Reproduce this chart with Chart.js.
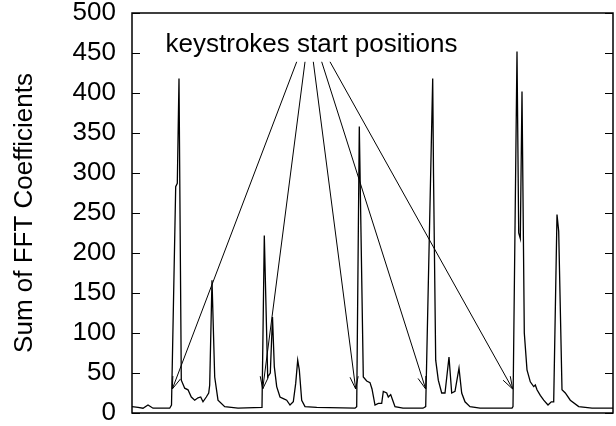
<!DOCTYPE html>
<html>
<head>
<meta charset="utf-8">
<script src="https://cdn.jsdelivr.net/npm/chart.js@4/dist/chart.umd.min.js"></script>
<style>
  html, body { margin: 0; padding: 0; background: #fff; }
  #wrap { width: 616px; height: 426px; }
</style>
</head>
<body>
<div id="wrap"><canvas id="fftChart"></canvas></div>
<script>
// sample positions (time axis, no labels shown) and summed FFT coefficients
const samplePos = [0, 6, 11, 16, 21, 37.7, 39.5, 43.7, 45.3, 47, 49.3, 52.7, 56, 59.3, 62.7, 66, 68.7, 71, 74.3, 76.7, 77.7, 80, 82.7, 86, 92.7, 106,
  130, 132.3, 135.7, 138.3, 140.5, 142.3, 144.7, 148, 151.3, 154.7, 158, 161.3, 163.7, 165.7, 167.3, 169.7, 173, 184.7,
  223, 224.7, 227.3, 231.3, 234.7, 238, 240, 243, 246.3, 249.7, 251.3, 254.7, 256.3, 258.7, 260.7, 263, 271,
  291, 293.7, 300.7, 301.5, 303.7, 306.3, 309.7, 313, 317, 319.7, 323, 327, 329.7, 333, 338, 348,
  380, 381, 385, 386.7, 388.3, 390, 392.3, 395, 398.3, 401.7, 403.3, 405, 408.3, 411.7, 416, 419.3, 421.7, 425, 426.7, 430, 433.3, 438.3, 446.7, 460, 481];
const fftSum = [8, 7, 6, 10, 6, 6, 10, 283, 287, 418, 41, 31, 29, 20, 16, 19, 20, 14, 20, 25, 35, 166, 45, 16, 8, 6,
  7, 222, 45, 50, 120, 58, 33, 20, 18, 16, 10, 14, 37, 66, 54, 16, 8, 7,
  6, 8, 358, 45, 40, 38, 30, 10, 12, 12, 27, 25, 20, 23, 16, 8, 6,
  6, 8, 418, 300, 66, 41, 25, 25, 70, 25, 27, 56, 25, 14, 8, 6,
  6, 8, 452, 225, 218, 402, 100, 54, 39, 33, 35, 29, 22, 16, 10, 14, 14, 248, 227, 29, 25, 16, 8, 6, 6];
const yTicks = [0, 50, 100, 150, 200, 250, 300, 350, 400, 450, 500];

// annotation: label and arrows to the keystroke start positions
const noteText = "keystrokes start positions";
const notePos = [179.5, 460];
const arrowFromX = [164.7, 173, 181.3, 189.7, 198];
const arrowFromY = 439;
const arrowToX = [40.3, 130.7, 223.7, 293.7, 380.7];
const arrowToY = 30;

const FONT = "Liberation Sans, Arial, Helvetica, sans-serif";

// box round the plot, inward ticks on both sides, then arrows + label
const framePlugin = {
  id: "frame",
  afterDraw(chart) {
    const { ctx, chartArea: a, scales: { x, y } } = chart;
    ctx.save();
    ctx.strokeStyle = "#000";
    ctx.lineWidth = 1.5;
    ctx.beginPath();
    ctx.moveTo(a.left, a.top);
    ctx.lineTo(a.right, a.top);
    ctx.lineTo(a.right, a.bottom);
    ctx.lineTo(a.left, a.bottom);
    ctx.closePath();
    ctx.stroke();

    ctx.lineWidth = 1;
    ctx.beginPath();
    yTicks.forEach((v) => {
      const py = Math.round(y.getPixelForValue(v)) + 0.5;
      ctx.moveTo(a.left, py);
      ctx.lineTo(a.left + 8, py);
      ctx.moveTo(a.right, py);
      ctx.lineTo(a.right - 8, py);
    });
    ctx.stroke();

    arrowToX.forEach((tx, i) => {
      const x0 = x.getPixelForValue(arrowFromX[i]);
      const y0 = y.getPixelForValue(arrowFromY);
      const x1 = x.getPixelForValue(tx);
      const y1 = y.getPixelForValue(arrowToY);
      const ang = Math.atan2(y1 - y0, x1 - x0);
      const head = 13, spread = 0.32;
      ctx.beginPath();
      ctx.moveTo(x0, y0);
      ctx.lineTo(x1, y1);
      ctx.moveTo(x1 - head * Math.cos(ang - spread), y1 - head * Math.sin(ang - spread));
      ctx.lineTo(x1, y1);
      ctx.lineTo(x1 - head * Math.cos(ang + spread), y1 - head * Math.sin(ang + spread));
      ctx.stroke();
    });

    ctx.fillStyle = "#000";
    ctx.font = "26px " + FONT;
    ctx.textAlign = "center";
    ctx.textBaseline = "middle";
    ctx.fillText(noteText, x.getPixelForValue(notePos[0]), y.getPixelForValue(notePos[1]));
    ctx.restore();
  }
};

new Chart(document.getElementById("fftChart"), {
  type: "line",
  data: {
    datasets: [
      {
        data: samplePos.map((p, i) => ({ x: p, y: fftSum[i] })),
        borderColor: "#000",
        borderWidth: 1.3,
        pointRadius: 0,
        tension: 0,
      },
    ],
  },
  options: {
    responsive: true,
    maintainAspectRatio: false,
    animation: false,
    layout: { padding: { top: 13, bottom: 13, left: 0, right: 3 } },
    plugins: { legend: { display: false }, tooltip: { enabled: false } },
    scales: {
      x: { type: "linear", min: 0, max: 481, display: false },
      y: {
        min: 0,
        max: 500,
        afterFit: (scale) => {
          scale.width = 132;
          scale.paddingTop = 0;
          scale.paddingBottom = 0;
        },
        afterBuildTicks: (scale) => { scale.ticks = yTicks.map((v) => ({ value: v })); },
        grid: { display: false, drawTicks: false },
        border: { display: false },
        ticks: { color: "#000", padding: 16, font: { family: FONT, size: 26, lineHeight: 1 } },
        title: {
          display: true,
          text: "Sum of FFT Coefficients",
          color: "#000",
          padding: { top: 9, bottom: 0 },
          font: { family: FONT, size: 26, lineHeight: 1.2 },
        },
      },
    },
  },
  plugins: [framePlugin],
});
</script>
</body>
</html>
